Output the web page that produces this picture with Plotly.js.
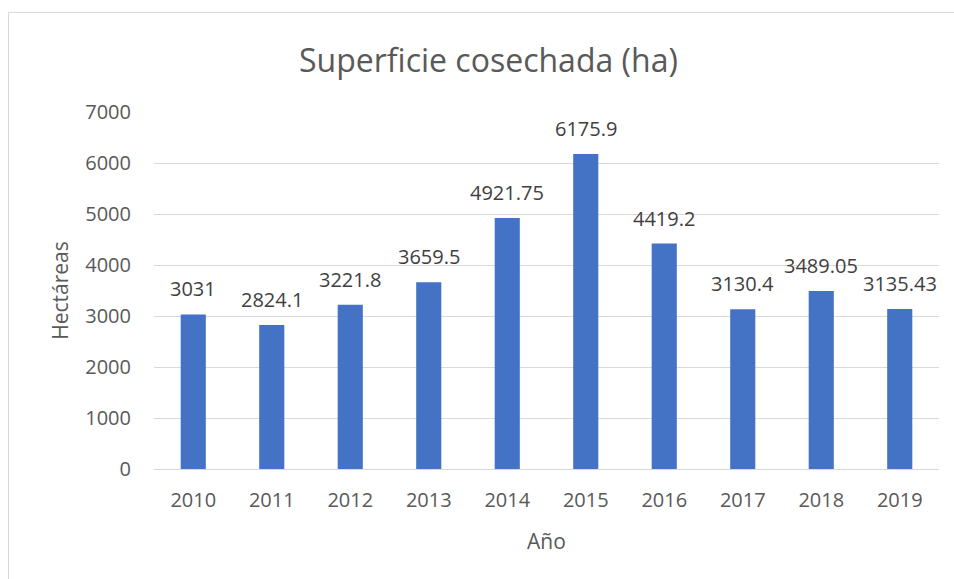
<!DOCTYPE html>
<html><head><meta charset="utf-8">
<script src="https://cdn.plot.ly/plotly-3.0.1.min.js"></script>
<style>html,body{margin:0;padding:0;background:#fff;}#chart{width:954px;height:579px;}</style>
</head><body><div id="chart"></div>
<script>
const years = ["2010","2011","2012","2013","2014","2015","2016","2017","2018","2019"];
const hectareas = [3031, 2824.1, 3221.8, 3659.5, 4921.75, 6175.9, 4419.2, 3130.4, 3489.05, 3135.43];
const labels = ["3031","2824.1","3221.8","3659.5","4921.75","6175.9","4419.2","3130.4","3489.05","3135.43"];
const yTicks = [0,1000,2000,3000,4000,5000,6000,7000];

const W = 954, H = 579, L = 154, R = 15, T = 112, B = 110;
const pw = W - L - R, ph = H - T - B;
const font = "Open Sans, Noto Sans, sans-serif";

const annotations = years.map((yr, i) => ({
  x: i, y: hectareas[i], xref: 'x', yref: 'y', text: labels[i], showarrow: false,
  yanchor: 'bottom', yshift: 10, font: {family: font, size: 20, color: '#404040'}
}));

Plotly.newPlot('chart', [{
  type: 'bar', x: years, y: hectareas,
  marker: {color: '#4472C4'}, hoverinfo: 'none'
}], {
  width: W, height: H,
  margin: {l: L, r: R, t: T, b: B, pad: 0},
  paper_bgcolor: '#fff', plot_bgcolor: '#fff',
  bargap: 0.68,
  showlegend: false,
  annotations: annotations,
  title: {text: 'Superficie cosechada (ha)', x: 0.512, xanchor: 'center', y: 0.895, yanchor: 'middle',
          font: {family: font, size: 32, color: '#595959'}},
  xaxis: {type: 'category', range: [-0.5, years.length - 0.5], showgrid: false, zeroline: false, showline: true, linecolor: '#d9d9d9', linewidth: 1,
          ticks: '', ticklabelstandoff: 13, tickfont: {family: font, size: 20, color: '#595959'},
          title: {text: 'Año', font: {family: font, size: 21, color: '#595959'}, standoff: 22}},
  yaxis: {range: [0, 7000], tickvals: yTicks, ticktext: yTicks.map(String), showgrid: true, gridcolor: '#d9d9d9', gridwidth: 1,
          zeroline: false, showline: false, ticks: '', ticklabelstandoff: 22,
          tickfont: {family: font, size: 20, color: '#595959'},
          title: {text: 'Hectáreas', font: {family: font, size: 21, color: '#595959'}, standoff: 10}},
  shapes: [{type: 'rect', xref: 'paper', yref: 'paper',
            x0: (8.5 - L) / pw, x1: (W + 20 - L) / pw,
            y0: -(H + 20 - T - ph) / ph, y1: (H - B - 12.5) / ph,
            line: {color: '#d9d9d9', width: 1}, fillcolor: 'rgba(0,0,0,0)', layer: 'below'}]
}, {displayModeBar: false, staticPlot: true});
</script></body></html>
